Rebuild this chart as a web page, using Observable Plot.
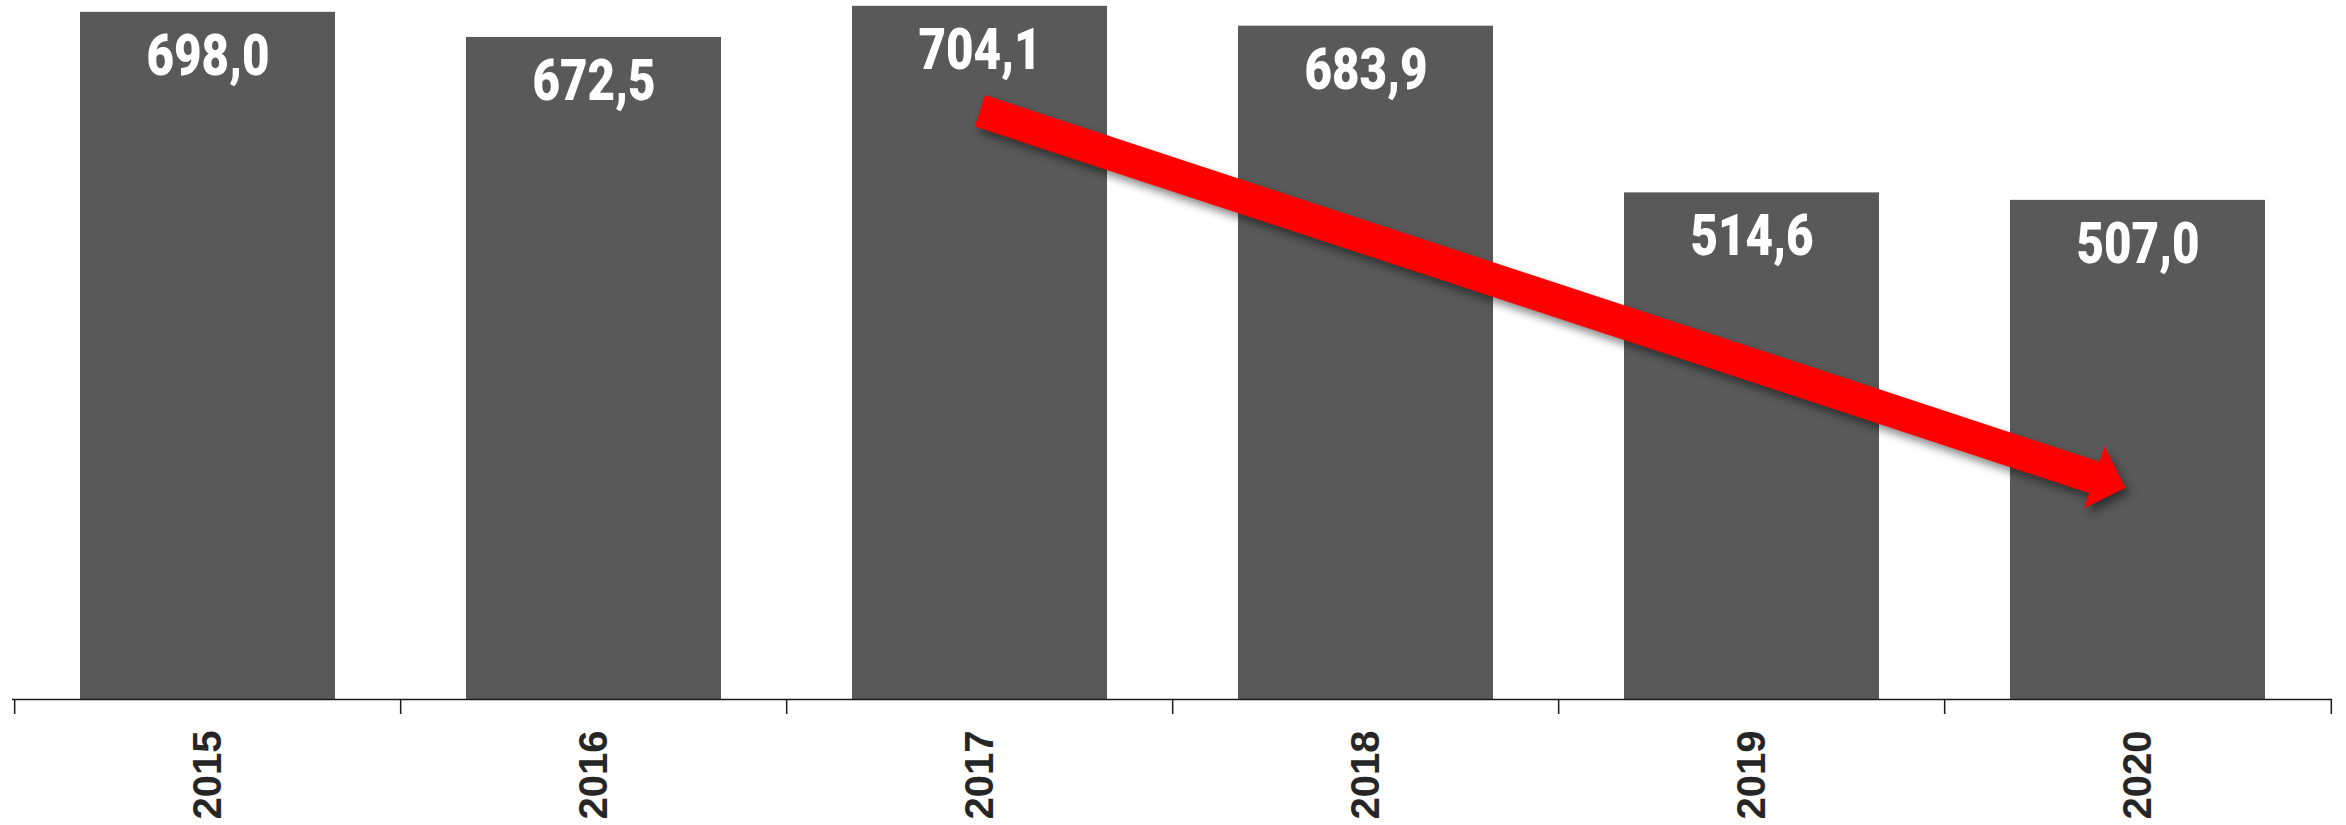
<!DOCTYPE html>
<html>
<head>
<meta charset="utf-8">
<script src="https://cdn.jsdelivr.net/npm/d3@7"></script>
<script src="https://cdn.jsdelivr.net/npm/@observablehq/plot@0.6"></script>
<style>
  html, body { margin: 0; padding: 0; background: #ffffff; }
  #chart { width: 2346px; height: 825px; }
</style>
</head>
<body>
<div id="chart"></div>
<script>
// ---- data ----
const years = ["2015", "2016", "2017", "2018", "2019", "2020"];
const values = [698.0, 672.5, 704.1, 683.9, 514.6, 507.0];
const valueLabels = ["698,0", "672,5", "704,1", "683,9", "514,6", "507,0"];
// trend arrow annotation (start and end, in data units)
const trendYears = ["2017", "2020"];
const trendValues = [598, 211];

// ---- layout ----
const W = 2346, H = 825;
const ml = 12, mr = 14, mt = 0, mb = 126;
const yMax = 710;
const step = (W - ml - mr) / years.length;

const data = years.map((year, i) => ({year, value: values[i], label: valueLabels[i]}));
const trend = [{x1: trendYears[0], y1: trendValues[0], x2: trendYears[1], y2: trendValues[1]}];

// screen angle of the trend line, from the same scales
const xs = Plot.scale({x: {type: "band", domain: years, range: [ml, W - mr], paddingInner: 0.34, paddingOuter: 0.17}});
const ys = Plot.scale({y: {type: "linear", domain: [0, yMax], range: [H - mb, mt]}});
const px1 = xs.apply(trendYears[0]) + xs.bandwidth / 2, px2 = xs.apply(trendYears[1]) + xs.bandwidth / 2;
const py1 = ys.apply(trendValues[0]), py2 = ys.apply(trendValues[1]);
const angle = Math.atan2(py2 - py1, px2 - px1) * 180 / Math.PI;

const headSymbol = {
  draw(ctx) {
    ctx.moveTo(-13, 0);
    ctx.lineTo(-46, -32.5);
    ctx.lineTo(-46, 32.5);
    ctx.closePath();
  }
};

const plot = Plot.plot({
  width: W,
  height: H,
  marginLeft: ml,
  marginRight: mr,
  marginTop: mt,
  marginBottom: mb,
  style: {background: "#ffffff", overflow: "visible"},
  x: {type: "band", domain: years, paddingInner: 0.34, paddingOuter: 0.17, axis: null},
  y: {domain: [0, yMax], axis: null},
  marks: [
    Plot.barY(data, {x: "year", y: "value", fill: "#595959"}),
    Plot.text(data, {
      x: "year", y: "value", text: "label", dy: 44,
      fill: "#ffffff", fontSize: 58, fontWeight: 900,
      fontFamily: "Roboto, 'Liberation Sans', sans-serif"
    }),
    Plot.ruleY([0], {stroke: "#1a1a1a", strokeWidth: 1.5}),
    Plot.axisX(years, {tickSize: 15, text: null, dx: -step / 2, stroke: "#1a1a1a", strokeWidth: 1.5}),
    Plot.axisX([years[years.length - 1]], {tickSize: 15, text: null, dx: step / 2, stroke: "#1a1a1a", strokeWidth: 1.5}),
    Plot.axisX(years, {
      tickSize: 0, tickPadding: 31, tickRotate: -90,
      fontSize: 40, fontWeight: 900, fill: "#262626",
      stroke: "#262626", strokeWidth: 1.3,
      fontFamily: "'Liberation Sans', Arial, sans-serif"
    }),
    Plot.arrow(trend, {
      x1: "x1", y1: "y1", x2: "x2", y2: "y2",
      stroke: "#ff0000", strokeWidth: 33, headLength: 0,
      strokeLinecap: "butt", insetEnd: 40
    }),
    Plot.dot(trend, {
      x: "x2", y: "y2", r: 10, symbol: headSymbol,
      fill: "#ff0000", stroke: "none", rotate: angle
    })
  ]
});

document.getElementById("chart").appendChild(plot);
// condensed look for the value labels
d3.select(plot).selectAll("g[aria-label='text'] text")
  .attr("transform", function() { return (this.getAttribute("transform") || "") + " scale(0.82,1)"; });
d3.select(plot).selectAll("g[aria-label='arrow'], g[aria-label='dot']")
  .style("filter", "drop-shadow(4px 6px 4px rgba(0,0,0,0.45))");
</script>
</body>
</html>
